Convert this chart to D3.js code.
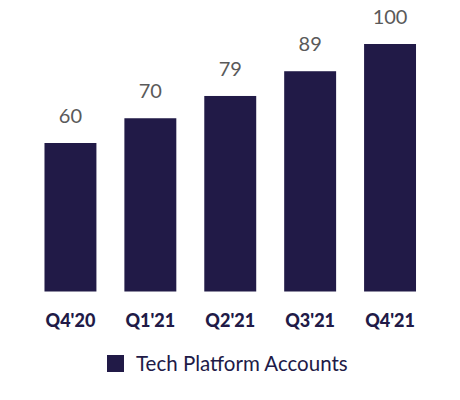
<!DOCTYPE html>
<html><head><meta charset="utf-8">
<script src="https://cdn.jsdelivr.net/npm/d3@7"></script>
<style>body{margin:0;background:#fff}svg{display:block}</style>
</head><body>
<script>
const categories = ["Q4'20", "Q1'21", "Q2'21", "Q3'21", "Q4'21"];
const values = [60, 70, 79, 89, 100];
const seriesName = "Tech Platform Accounts";

const W = 460, H = 400;
const barColor = "#211a47";
const svg = d3.select("body").append("svg").attr("width", W).attr("height", H);

const x = d3.scaleBand().domain(categories).range([30.5, 430]).paddingInner(0.35).paddingOuter(0.175);
const y = d3.scaleLinear().domain([0, 100]).range([291.5, 44]);

svg.selectAll("rect.bar").data(values).enter().append("rect")
  .attr("class", "bar")
  .attr("x", (d, i) => x(categories[i]))
  .attr("width", x.bandwidth())
  .attr("y", d => y(d))
  .attr("height", d => y(0) - y(d))
  .attr("fill", barColor);

svg.selectAll("text.val").data(values).enter().append("text")
  .attr("class", "val")
  .attr("x", (d, i) => x(categories[i]) + x.bandwidth() / 2)
  .attr("y", d => y(d) - 20)
  .attr("text-anchor", "middle")
  .attr("font-family", "Lato, 'Open Sans', sans-serif")
  .attr("font-size", 20)
  .attr("fill", "#5a5a5a")
  .text(d => d);

const xAxis = d3.axisBottom(x).tickSize(0).tickPadding(0);
const gx = svg.append("g").attr("transform", `translate(0,${328 - 13.5})`).call(xAxis);
gx.select(".domain").remove();
gx.selectAll("text")
  .attr("dy", "0.71em")
  .attr("font-family", "Lato, 'Open Sans', sans-serif")
  .attr("font-weight", 900)
  .attr("font-size", 18)
  .attr("fill", barColor);

const lg = svg.append("g");
lg.append("rect").attr("x", 107).attr("y", 355).attr("width", 17).attr("height", 17).attr("fill", barColor);
lg.append("text").attr("x", 136).attr("y", 370.5)
  .attr("font-family", "Lato, 'Open Sans', sans-serif")
  .attr("font-size", 20.5)
  .attr("fill", barColor)
  .text(seriesName);
</script>
</body></html>
